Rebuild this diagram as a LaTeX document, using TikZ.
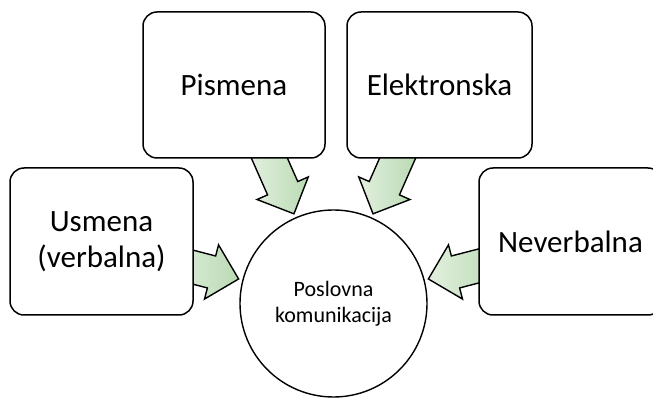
\documentclass[tikz,border=0pt]{standalone}
\usepackage{fontspec}
\setmainfont{Carlito}
\usetikzlibrary{calc}
\definecolor{arrowA}{RGB}{186,218,180}
\definecolor{arrowB}{RGB}{226,240,222}
\tikzset{
  box/.style={draw=black, line width=1.5pt, rounded corners=14pt, fill=white,
    minimum width=183pt, minimum height=146pt, align=center,
    font=\fontsize{31}{36}\selectfont, inner sep=0pt},
  hub/.style={circle, draw=black, line width=1.4pt, fill=white,
    minimum size=187pt, align=center,
    font=\fontsize{22}{26}\selectfont, inner sep=0pt},
  blockarrow/.pic={
    \draw[line width=1.4pt, line join=miter, left color=arrowB, right color=arrowA]
      (0,-16.5) -- (42,-16.5) -- (42,-28) -- (70,0) -- (42,28) -- (42,16.5) -- (0,16.5) -- cycle;
  }
}
\begin{document}
\begin{tikzpicture}[x=1pt,y=1pt]
  \useasboundingbox (0,0) rectangle (653,399);
  \coordinate (C) at (333.5,95.5);
  % arrow start points (behind the boxes)
  \coordinate (sP) at ($(C)+(113.8:168)$);
  \coordinate (sE) at ($(C)+(66.2:168)$);
  \coordinate (sU) at ($(C)+(165.5:168)$);
  \coordinate (sN) at ($(C)+(14.5:168)$);
  \pic[rotate=293.8] at (sP) {blockarrow};
  \pic[rotate=246.2] at (sE) {blockarrow};
  \pic[rotate=345.5] at (sU) {blockarrow};
  \pic[rotate=194.5] at (sN) {blockarrow};
  % boxes
  \node[box, minimum width=182pt] (pis) at (234,314) {Pismena};
  \node[box, minimum width=185pt] (ele) at (439.5,314) {Elektronska};
  \node[box, minimum height=147pt] (usm) at (101.5,157.5) {Usmena\\(verbalna)};
  \node[box, minimum height=147pt] (nev) at (570.5,157.5) {Neverbalna};
  % hub
  \node[hub] (hub) at (C) {Poslovna\\komunikacija};
\end{tikzpicture}
\end{document}
